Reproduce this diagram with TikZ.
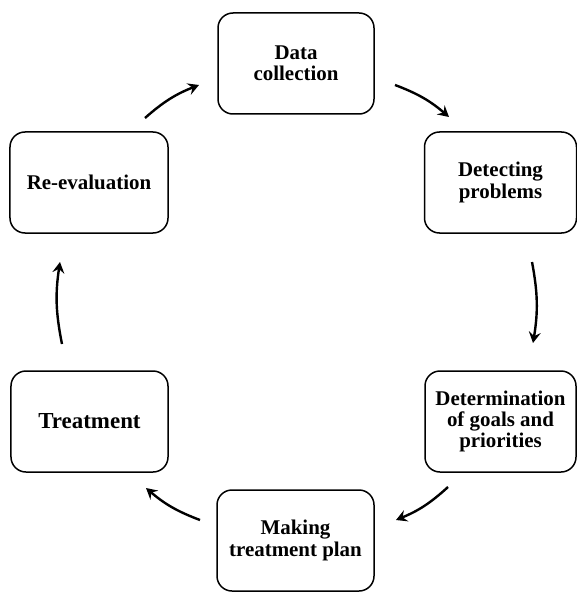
\documentclass[tikz,border=0pt]{standalone}
\usepackage{fontspec}
\setmainfont{Liberation Serif}
\usetikzlibrary{arrows.meta}
\begin{document}
\begin{tikzpicture}[x=1bp,y=-1bp,
  stepbox/.style={draw=black, line width=1.5bp, rounded corners=15bp, align=center,
    inner sep=0pt, font=\bfseries\fontsize{21}{21.5}\selectfont},
  cyc/.style={line width=2.4bp, -{Stealth[length=11bp,width=12bp,inset=4bp]}, bend left=10}]
\useasboundingbox (0,0) rectangle (577,592);
\fill[white] (0,0) rectangle (577,592);
\node[stepbox, minimum width=156bp, minimum height=101bp] (data) at (296,63.5) {Data\\collection};
\node[stepbox, minimum width=152bp, minimum height=101bp] (detect) at (500.5,182.5) {Detecting\\problems};
\node[stepbox, minimum width=151bp, minimum height=101bp] (goals) at (500.5,421.5) {Determination\\of goals and\\priorities};
\node[stepbox, minimum width=157bp, minimum height=101bp] (plan) at (295.5,540.5) {Making\\treatment plan};
\node[stepbox, minimum width=157bp, minimum height=101bp, font=\bfseries\fontsize{23}{24}\selectfont] (treat) at (89.5,421.5) {Treatment};
\node[stepbox, minimum width=158bp, minimum height=101bp] (reeval) at (89,182.5) {Re-evaluation};
% free ends of the connectors
\coordinate (a1s) at (145,118); \coordinate (a1e) at (199,85);
\coordinate (a2s) at (395,85);  \coordinate (a2e) at (449,117);
\coordinate (a3s) at (532,262); \coordinate (a3e) at (533,343);
\coordinate (a4s) at (448,487); \coordinate (a4e) at (396,520);
\coordinate (a5s) at (200,520); \coordinate (a5e) at (146,488);
\coordinate (a6s) at (62,344);  \coordinate (a6e) at (60,262);
\draw[cyc] (a1s) to (a1e);
\draw[cyc] (a2s) to (a2e);
\draw[cyc] (a3s) to (a3e);
\draw[cyc] (a4s) to (a4e);
\draw[cyc] (a5s) to (a5e);
\draw[cyc] (a6s) to (a6e);
\end{tikzpicture}
\end{document}
